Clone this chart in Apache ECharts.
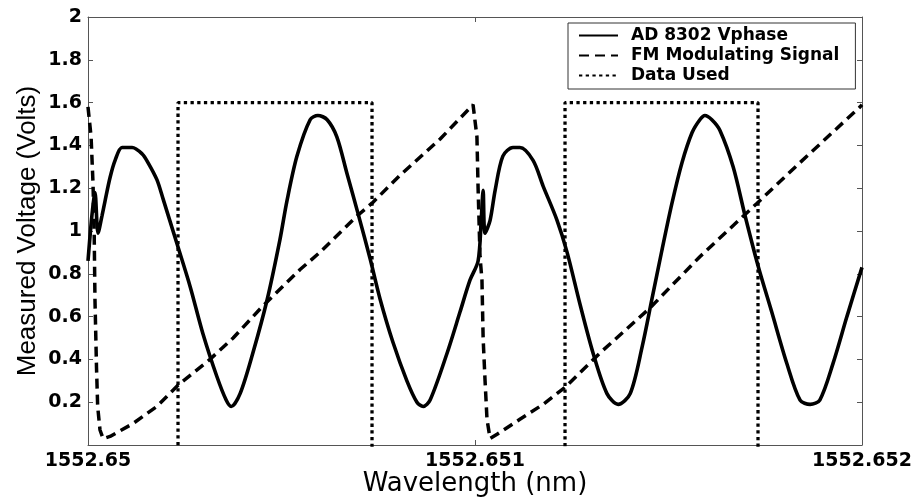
<!DOCTYPE html>
<html>
<head>
<meta charset="utf-8">
<script src="https://cdn.jsdelivr.net/npm/echarts@6/dist/echarts.min.js"></script>
<style>
  html, body { margin: 0; padding: 0; background: #fff; }
  #chart { width: 915px; height: 497px; }
</style>
</head>
<body>
<div id="chart"></div>
<script>
// x values are offsets in picometres from 1552.65 nm (0 .. 2 pm = 1552.650 .. 1552.652 nm)
const xTickLabels = ['1552.65', '1552.651', '1552.652'];
const yTickLabels = ['', '0.2', '0.4', '0.6', '0.8', '1', '1.2', '1.4', '1.6', '1.8', '2'];
const seriesNames = ['AD 8302 Vphase', 'FM Modulating Signal', 'Data Used'];

const vphaseX = [0.000, 0.010, 0.018, 0.026, 0.036, 0.044, 0.057, 0.070, 0.088, 0.114, 0.140, 0.155, 0.178, 0.194,
  0.230, 0.264, 0.297, 0.333, 0.357, 0.370, 0.393, 0.426, 0.463, 0.496, 0.514, 0.540, 0.574, 0.594, 0.618, 0.643,
  0.669, 0.698, 0.729, 0.755, 0.788, 0.824, 0.850, 0.866, 0.884, 0.928, 0.961, 0.987, 1.008, 1.016, 1.021, 1.026,
  1.039, 1.052, 1.072, 1.098, 1.116, 1.150, 1.176, 1.212, 1.238, 1.271, 1.305, 1.341, 1.370, 1.401, 1.432, 1.457,
  1.483, 1.509, 1.535, 1.561, 1.581, 1.594, 1.612, 1.633, 1.667, 1.698, 1.731, 1.767, 1.806, 1.840, 1.866, 1.891,
  1.925, 1.961, 2.000];
const vphaseY = [0.86, 1.07, 1.18, 0.99, 1.07, 1.14, 1.25, 1.33, 1.39, 1.39, 1.36, 1.32, 1.24, 1.15,
  0.94, 0.74, 0.52, 0.32, 0.21, 0.18, 0.24, 0.43, 0.68, 0.96, 1.14, 1.35, 1.52, 1.54, 1.52, 1.44,
  1.27, 1.08, 0.87, 0.68, 0.48, 0.30, 0.20, 0.18, 0.21, 0.43, 0.62, 0.77, 0.86, 1.05, 1.19, 0.99,
  1.05, 1.19, 1.35, 1.39, 1.39, 1.33, 1.21, 1.05, 0.90, 0.66, 0.43, 0.24, 0.19, 0.24, 0.46, 0.68,
  0.91, 1.13, 1.32, 1.46, 1.52, 1.54, 1.52, 1.47, 1.30, 1.07, 0.84, 0.62, 0.38, 0.21, 0.19, 0.21,
  0.38, 0.60, 0.83];

const fmX = [0.000, 0.008, 0.013, 0.016, 0.018, 0.022, 0.025, 0.031, 0.039, 0.057, 0.116, 0.178, 0.233, 0.315,
  0.375, 0.452, 0.548, 0.599, 0.695, 0.734, 0.806, 0.910, 0.995, 1.005, 1.008, 1.013, 1.018, 1.021, 1.026, 1.031,
  1.039, 1.057, 1.116, 1.176, 1.233, 1.323, 1.452, 1.581, 1.729, 1.840, 1.995, 2.000];
const fmY = [1.58, 1.44, 1.22, 0.99, 0.68, 0.36, 0.18, 0.07, 0.03, 0.04, 0.10, 0.18, 0.28, 0.40,
  0.50, 0.65, 0.82, 0.90, 1.07, 1.13, 1.26, 1.43, 1.59, 1.44, 1.20, 0.88, 0.77, 0.50, 0.30, 0.12,
  0.03, 0.05, 0.12, 0.19, 0.27, 0.43, 0.64, 0.88, 1.13, 1.32, 1.58, 1.59];

// low state lies at/below the bottom edge of the plot (not visible in the picture)
const usedX = [0.000, 0.2326, 0.2326, 0.7339, 0.7339, 1.2326, 1.2326, 1.7313, 1.7313, 2.000];
const usedY = [-0.05, -0.05, 1.6, 1.6, -0.05, -0.05, 1.6, 1.6, -0.05, -0.05];

const zip = (xs, ys) => xs.map((x, i) => [x, ys[i]]);

const chart = echarts.init(document.getElementById('chart'), null, { renderer: 'canvas' });
const axisColor = '#555';
const tickFont = { fontFamily: 'DejaVu Sans', fontWeight: 'bold', fontSize: 19, color: '#000' };

chart.setOption({
  animation: false,
  backgroundColor: '#fff',
  grid: { left: 88, right: 53, top: 17, bottom: 52, containLabel: false, outerBoundsMode: 'none' },
  legend: {
    orient: 'vertical',
    left: 568,
    top: 23,
    padding: [4, 16, 5, 10],
    itemWidth: 39,
    itemHeight: 12,
    itemGap: 3,
    borderColor: '#333',
    borderWidth: 1,
    backgroundColor: '#fff',
    itemStyle: { opacity: 0 },
    textStyle: { fontFamily: 'DejaVu Sans', fontWeight: 'bold', fontSize: 17, lineHeight: 17, color: '#000', padding: [0, 0, 0, 8] },
    data: seriesNames
  },
  xAxis: [
    {
      type: 'value', min: 0, max: 2, interval: 1, position: 'bottom',
      name: 'Wavelength (nm)', nameLocation: 'middle', nameGap: 26, nameMoveOverlap: false,
      nameTextStyle: { fontFamily: 'DejaVu Sans', fontSize: 26, color: '#000' },
      axisLine: { show: true, onZero: false, lineStyle: { color: axisColor, width: 1 } },
      axisTick: { show: true, inside: true, length: 5, lineStyle: { color: axisColor } },
      splitLine: { show: false },
      axisLabel: Object.assign({ margin: 7, formatter: v => xTickLabels[Math.round(v)] }, tickFont)
    },
    {
      type: 'value', min: 0, max: 2, interval: 1, position: 'top',
      axisLine: { show: true, onZero: false, lineStyle: { color: axisColor, width: 1 } },
      axisTick: { show: true, inside: true, length: 5, lineStyle: { color: axisColor } },
      splitLine: { show: false },
      axisLabel: { show: false }
    }
  ],
  yAxis: [
    {
      type: 'value', min: 0, max: 2, interval: 0.2, position: 'left',
      name: 'Measured Voltage (Volts)', nameLocation: 'middle', nameGap: 47, nameMoveOverlap: false,
      nameTextStyle: { fontFamily: 'Liberation Sans', fontSize: 26, color: '#000' },
      axisLine: { show: true, onZero: false, lineStyle: { color: axisColor, width: 1 } },
      axisTick: { show: true, inside: true, length: 5, lineStyle: { color: axisColor } },
      splitLine: { show: false },
      axisLabel: Object.assign({ margin: 6, formatter: v => yTickLabels[Math.round(v * 5)] }, tickFont)
    },
    {
      type: 'value', min: 0, max: 2, interval: 0.2, position: 'right',
      axisLine: { show: true, onZero: false, lineStyle: { color: axisColor, width: 1 } },
      axisTick: { show: true, inside: true, length: 5, lineStyle: { color: axisColor } },
      splitLine: { show: false },
      axisLabel: { show: false }
    }
  ],
  series: [
    {
      name: seriesNames[0], type: 'line', data: zip(vphaseX, vphaseY),
      symbol: 'none', showSymbol: false, smooth: 0.3, clip: true,
      lineStyle: { color: '#000', width: 3.6, type: 'solid' }, itemStyle: { color: '#000' }, z: 4
    },
    {
      name: seriesNames[1], type: 'line', data: zip(fmX, fmY),
      symbol: 'none', showSymbol: false, smooth: false, clip: true,
      lineStyle: { color: '#000', width: 3.5, type: [10, 6], cap: 'butt' }, itemStyle: { color: '#000' }, z: 3
    },
    {
      name: seriesNames[2], type: 'line', data: zip(usedX, usedY),
      symbol: 'none', showSymbol: false, smooth: false, clip: true,
      lineStyle: { color: '#000', width: 3.3, type: [3.3, 3.4], cap: 'butt' }, itemStyle: { color: '#000' }, z: 2
    }
  ]
});
</script>
</body>
</html>
